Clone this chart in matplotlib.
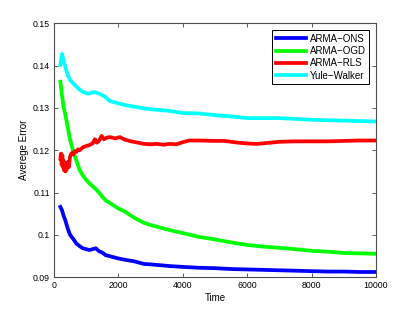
import matplotlib
matplotlib.use("Agg")
import matplotlib.pyplot as plt

plt.rcParams['font.family'] = ['Liberation Sans', 'DejaVu Sans']

# shared time axis for ONS, OGD and Yule-Walker
time = [200, 250, 300, 350, 400, 450, 500, 600, 700, 800, 900, 1000, 1100, 1200,
        1300, 1400, 1500, 1600, 1700, 1800, 2000, 2200, 2500, 2800, 3000, 3300,
        3600, 4000, 4500, 5000, 5500, 6000, 6500, 7000, 7500, 8000, 8500, 9000,
        9500, 10000]

ons = [0.1066, 0.1058, 0.1045, 0.1035, 0.1022, 0.1010, 0.1000, 0.0990, 0.0979,
       0.0973, 0.0968, 0.0966, 0.0964, 0.0966, 0.0968, 0.0961, 0.0958, 0.0952,
       0.0950, 0.0948, 0.0944, 0.0941, 0.0937, 0.0931, 0.0930, 0.0928, 0.0926,
       0.0924, 0.0922, 0.0921, 0.0919, 0.0918, 0.0917, 0.0916, 0.0915, 0.0914,
       0.0913, 0.0913, 0.0912, 0.0912]

ogd = [0.1362, 0.1330, 0.1303, 0.1285, 0.1266, 0.1245, 0.1225, 0.1197, 0.1175,
       0.1153, 0.1140, 0.1130, 0.1122, 0.1115, 0.1108, 0.1100, 0.1090, 0.1082,
       0.1077, 0.1072, 0.1062, 0.1055, 0.1040, 0.1028, 0.1023, 0.1017, 0.1011,
       0.1004, 0.0995, 0.0989, 0.0982, 0.0976, 0.0972, 0.0969, 0.0966, 0.0962,
       0.0960, 0.0957, 0.0956, 0.0955]

yw = [0.1402, 0.1428, 0.1410, 0.1398, 0.1385, 0.1374, 0.1366, 0.1358, 0.1350,
      0.1343, 0.1338, 0.1335, 0.1334, 0.1337, 0.1337, 0.1334, 0.1330, 0.1326,
      0.1318, 0.1315, 0.1311, 0.1307, 0.1303, 0.1299, 0.1297, 0.1295, 0.1293,
      0.1288, 0.1287, 0.1283, 0.1280, 0.1276, 0.1276, 0.1276, 0.1274, 0.1272,
      0.1271, 0.1270, 0.1269, 0.1268]

# RLS has a jittery start, so it gets its own time points
time_rls = [200, 220, 240, 260, 280, 300, 320, 340, 360, 380, 400, 430, 460, 500,
            550, 600, 650, 700, 750, 800, 900, 1000, 1100, 1200, 1270, 1330, 1400,
            1480, 1550, 1650, 1750, 1900, 2050, 2200, 2400, 2600, 2800, 3000, 3200,
            3400, 3600, 3800, 4000, 4200, 4500, 5000, 5300, 5700, 6000, 6300, 6600,
            7000, 7500, 8000, 8500, 9000, 9500, 10000]
rls = [0.1180, 0.1192, 0.1165, 0.1188, 0.1160, 0.1175, 0.1152, 0.1170, 0.1150,
       0.1168, 0.1155, 0.1172, 0.1160, 0.1185, 0.1193, 0.1190, 0.1198, 0.1196,
       0.1202, 0.1200, 0.1207, 0.1210, 0.1212, 0.1216, 0.1226, 0.1218, 0.1222,
       0.1234, 0.1226, 0.1230, 0.1231, 0.1228, 0.1231, 0.1225, 0.1221, 0.1218,
       0.1215, 0.1214, 0.1215, 0.1213, 0.1215, 0.1214, 0.1219, 0.1223, 0.1223,
       0.1222, 0.1222, 0.1218, 0.1216, 0.1215, 0.1217, 0.1220, 0.1221, 0.1221,
       0.1221, 0.1222, 0.1223, 0.1223]

fig = plt.figure(figsize=(4.15, 3.12), dpi=100)
ax = fig.add_axes([0.130, 0.112, 0.776, 0.813])

lw = 2.7
ax.plot(time, ons, color='#0000ff', lw=lw, label='ARMA\u2212ONS')
ax.plot(time, ogd, color='#00ff00', lw=lw, label='ARMA\u2212OGD')
ax.plot(time_rls, rls, color='#ff0000', lw=lw, label='ARMA\u2212RLS')
ax.plot(time, yw, color='#00ffff', lw=lw, label='Yule\u2212Walker')

ax.set_xlim(0, 10000)
ax.set_ylim(0.09, 0.15)
ax.set_xticks([0, 2000, 4000, 6000, 8000, 10000])
ax.set_yticks([0.09, 0.10, 0.11, 0.12, 0.13, 0.14, 0.15])
ax.set_yticklabels(['0.09', '0.1', '0.11', '0.12', '0.13', '0.14', '0.15'])
ax.tick_params(direction='in', top=True, right=True, labelsize=6.3,
               length=3, width=0.6, color='0.25', pad=3)
for s in ax.spines.values():
    s.set_color('0.3')
    s.set_linewidth(0.8)

ax.set_xlabel('Time', fontsize=7, labelpad=2)
ax.set_ylabel('Averege Error', fontsize=7, labelpad=2.5)

leg = ax.legend(loc='upper right', fontsize=7, handlelength=3.1,
                handletextpad=0.4, labelspacing=0.25, borderpad=0.35,
                borderaxespad=0.7, fancybox=False, framealpha=1)
leg.get_frame().set_edgecolor('black')
leg.get_frame().set_linewidth(0.7)

fig.savefig('out.png', dpi=100)
